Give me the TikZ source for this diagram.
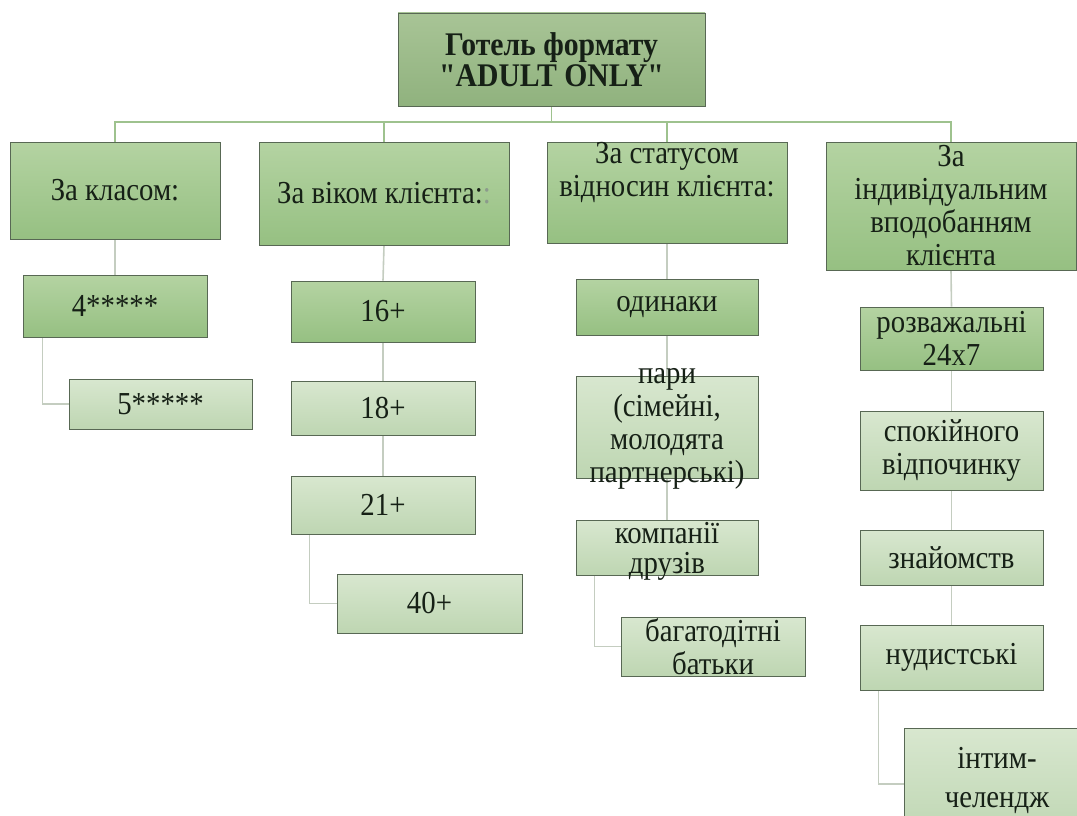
\documentclass[tikz,border=0pt]{standalone}
\usepackage{fontspec}
\setmainfont{Liberation Serif}[FakeStretch=0.9, Ligatures=TeXOff]
\usetikzlibrary{backgrounds}

\definecolor{boxline}{RGB}{88,104,84}
\definecolor{textdark}{RGB}{22,32,22}
\definecolor{headtop}{RGB}{168,196,150}
\definecolor{headbot}{RGB}{144,178,126}
\definecolor{darktop}{RGB}{180,211,162}
\definecolor{darkbot}{RGB}{150,192,130}
\definecolor{lighttop}{RGB}{216,231,207}
\definecolor{lightbot}{RGB}{190,214,178}
\definecolor{buscol}{RGB}{158,194,142}
\definecolor{linkcol}{RGB}{196,205,192}
\definecolor{faintcol}{RGB}{140,155,140}

\newcommand{\boxfont}{\fontsize{32}{33}\selectfont}

\tikzset{
  box/.style={draw=boxline, line width=0.9pt, inner sep=0pt, align=center,
    font=\boxfont, text=textdark},
  headbox/.style={box, top color=headtop, bottom color=headbot,
    font=\fontsize{33}{31}\selectfont\bfseries},
  darkbox/.style={box, top color=darktop, bottom color=darkbot},
  lightbox/.style={box, top color=lighttop, bottom color=lightbot},
  boxwh/.style 2 args={minimum width=#1pt, minimum height=#2pt},
  boxlabel/.style={align=center, inner sep=0pt, font=\boxfont, text=textdark},
  busline/.style={draw=buscol, line width=1.8pt},
  link/.style={draw=linkcol, line width=1.6pt}
}

\begin{document}
\begin{tikzpicture}[x=1pt, y=-1pt]

    % Page frame of the reference
    \useasboundingbox (0,0) rectangle (1077,816);
    \clip (0,0) rectangle (1077,816);

    % Head of the tree
    \node[headbox, boxwh={307}{93}] (head) at (551.5,59.5) {Готель формату\\"ADULT ONLY"};
    \coordinate (bus) at (551.5,122);

    % The four criteria
    \node[darkbox, boxwh={210}{97}] (cat1) at (115,190.5) {За класом:};
    \node[darkbox, boxwh={250}{103}] (cat2) at (384,193.5) {За віком клієнта:{\color{faintcol}:}};
    \node[darkbox, boxwh={240}{101},
      label={[boxlabel, anchor=north, yshift=-1pt]north:За статусом\\відносин клієнта:}] (cat3) at (667,192.5) {};
    \node[darkbox, boxwh={250}{128}] (cat4) at (951,206) {За\\індивідуальним\\вподобанням\\клієнта};

    % Class
    \node[darkbox, boxwh={184}{62}] (k4) at (115,306) {4*****};
    \node[lightbox, boxwh={183}{50}] (k5) at (160.5,404) {5*****};

    % Age
    \node[darkbox, boxwh={184}{61}] (a16) at (383,311.5) {16+};
    \node[lightbox, boxwh={184}{54}] (a18) at (383,408) {18+};
    \node[lightbox, boxwh={184}{58}] (a21) at (383,505) {21+};
    \node[lightbox, boxwh={185}{59}] (a40) at (429.5,603.5) {40+};

    % Relationship status
    \node[darkbox, boxwh={182}{56}] (s1) at (667,307) {одинаки};
    \node[lightbox, boxwh={182}{102},
      label={[boxlabel, yshift=-2pt]center:пари\\(сімейні,\\молодята\\партнерські)}] (s2) at (667,427) {};
    \node[lightbox, boxwh={182}{55},
      label={[boxlabel, yshift=-4pt]center:компанії\\[-3pt]друзів}] (s3) at (667,547.5) {};
    \node[lightbox, boxwh={184}{59}] (s4) at (713,646.5) {багатодітні\\батьки};

    % Personal preference
    \node[darkbox, boxwh={183}{63}] (p1) at (951.5,338.5) {розважальні\\24x7};
    \node[lightbox, boxwh={183}{79}] (p2) at (951.5,450.5) {спокійного\\відпочинку};
    \node[lightbox, boxwh={183}{55}] (p3) at (951.5,557.5) {знайомств};
    \node[lightbox, boxwh={183}{65}] (p4) at (951.5,657.5) {нудистські};
    \node[lightbox, boxwh={186}{112},
      label={[boxlabel, anchor=north, yshift=-20pt]north:інтим-\\[6pt]челендж}] (p5) at (997,784) {};

    \begin{scope}[on background layer]
      % Bus under the head
      \draw[busline] (head.south) -- (bus);
      \draw[busline] (cat1.north) |- (bus) -| (cat4.north);
      \draw[busline] (cat2.north) -- (cat2.north |- bus);
      \draw[busline] (cat3.north) -- (cat3.north |- bus);

      % Links down the columns
      \draw[link] (cat1.south) -- (k4.north);
      \draw[link] ([xshift=20pt]k4.south west) |- (k5.west);

      \draw[link] (cat2.south) -- (a16.north);
      \draw[link] (a16.south) -- (a18.north);
      \draw[link] (a18.south) -- (a21.north);
      \draw[link] ([xshift=19pt]a21.south west) |- (a40.west);

      \draw[link] (cat3.south) -- (s1.north);
      \draw[link] (s1.south) -- (s2.north);
      \draw[link] (s2.south) -- (s3.north);
      \draw[link] ([xshift=19pt]s3.south west) |- (s4.west);

      \draw[link] (cat4.south) -- (p1.north);
      \draw[link] (p1.south) -- (p2.north);
      \draw[link] (p2.south) -- (p3.north);
      \draw[link] (p3.south) -- (p4.north);
      \draw[link] ([xshift=19pt]p4.south west) |- (p5.west);
    \end{scope}

\end{tikzpicture}
\end{document}
